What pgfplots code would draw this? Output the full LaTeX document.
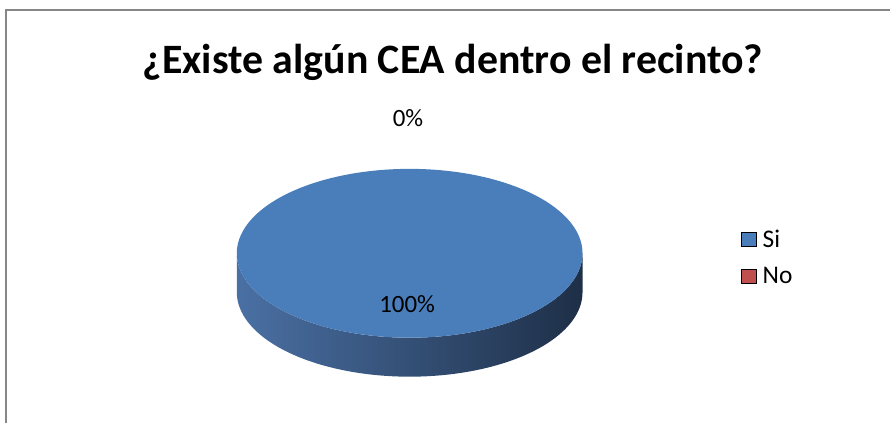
\documentclass[border=0pt]{standalone}
\usepackage{pgfplots}
\pgfplotsset{compat=1.18}
\usepackage{pgfplotstable}
\usepackage{fontspec}
\setmainfont{Carlito}
\definecolor{pieblue}{HTML}{4A7EBB}
\definecolor{sideL}{HTML}{4A70A4}
\definecolor{sideM}{HTML}{30496D}
\definecolor{sideR}{HTML}{1E2F47}
\definecolor{nored}{HTML}{C0504D}
\definecolor{framegray}{HTML}{868686}
\pgfplotstableread{
label value
Si 100
No 0
}\piedata
\begin{document}
\begin{tikzpicture}
\pgfplotstablegetelem{0}{value}\of\piedata \let\vSi\pgfplotsretval
\pgfplotstablegetelem{1}{value}\of\piedata \let\vNo\pgfplotsretval
\pgfmathsetmacro{\tot}{\vSi+\vNo}
\pgfmathsetmacro{\aS}{270}
\pgfmathsetmacro{\aE}{270+360*(\vSi/\tot)}
\begin{axis}[
  width=891bp, height=423bp, scale only axis,
  xmin=0, xmax=891, ymin=0, ymax=423, y dir=reverse,
  hide axis, clip=false,
  legend style={draw=none, fill=none, at={(axis cs:741.7,257.7)}, anchor=west,
    inner sep=0pt, row sep=18.5bp, column sep=5.5bp,
    nodes={inner xsep=0.5bp, inner ysep=0pt},
    font=\fontsize{25.5}{30}\selectfont},
  legend cell align=left,
  legend image code/.code={\fill[#1] (0bp,-7.3bp) rectangle (15bp,7.3bp);},
]
% bounding box
\path (axis cs:0,0) rectangle (axis cs:891,423);
% frame
\draw[framegray, line width=1.5bp] (axis cs:6,423) -- (axis cs:6,10) -- (axis cs:891,10);
% side of the pie (front half)
\addplot[forget plot, draw=none, left color=sideL, middle color=sideM, right color=sideR,
  samples at={0,2,...,180,180.001,182,...,360}]
  ({410+173*cos(x)},{253.5+84.5*abs(sin(x))+39*(x<=180)}) -- cycle;
% top face: slice Si
\addplot[forget plot, fill=pieblue, draw=none, domain=\aS:\aE, samples=241]
  ({410+173*cos(x)},{253.5+84.5*sin(x)}) -- cycle;
\addlegendimage{fill=pieblue}
\addlegendentry{Si}
\addlegendimage{fill=nored}
\addlegendentry{No}
% labels
\node[font=\fontsize{25}{30}\selectfont] at (axis cs:407.5,304.7) {\pgfmathprintnumber[assume math mode=true]{\vSi}\%};
\node[font=\fontsize{25}{30}\selectfont] at (axis cs:408.3,118.3) {\pgfmathprintnumber[assume math mode=true]{\vNo}\%};
% title
\node[font=\bfseries\fontsize{42}{48}\selectfont] at (axis cs:453.3,62) {¿Existe algún CEA dentro el recinto?};
\end{axis}
\end{tikzpicture}
\end{document}
